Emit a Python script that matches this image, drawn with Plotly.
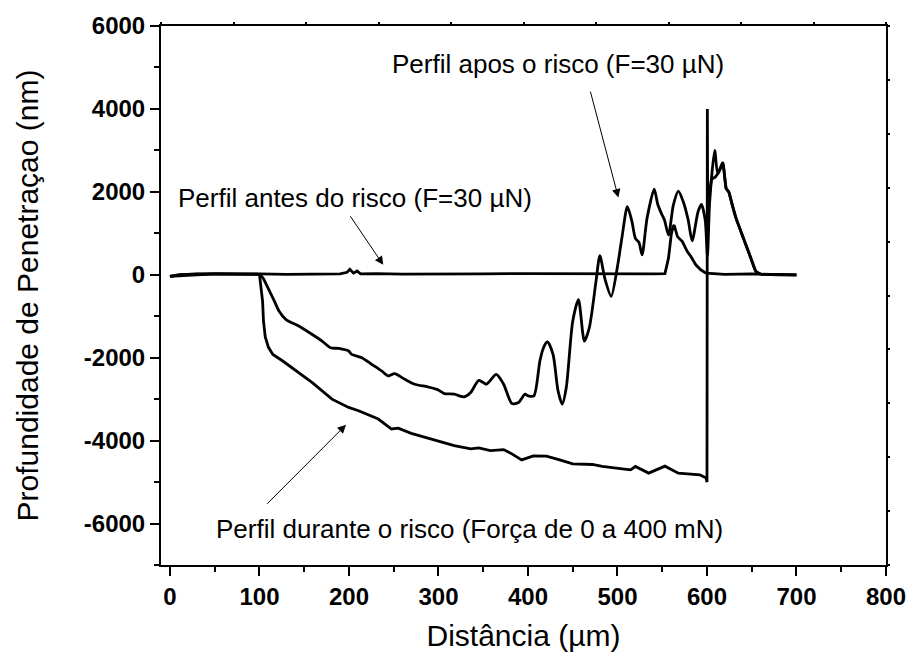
import plotly.graph_objects as go

# ---------------- data ----------------
antes_x = [0, 10, 30, 50, 80, 100, 130, 160, 190, 198, 201, 205, 209, 213, 230, 260, 300,
           350, 400, 450, 500, 540, 553, 557, 560, 562, 563.3, 567, 572.5, 578, 582, 587.5,
           593, 599, 620, 650, 680, 700]
antes_y = [-40, 0, 20, 25, 15, 20, 10, 15, 20, 60, 130, 40, 90, 20, 30, 15, 25,
           20, 30, 20, 25, 20, 30, 400, 960, 1160, 1200, 920, 800, 560, 440, 240,
           120, 40, 10, 20, 0, -10]

apos_x = [0, 10, 50, 90, 97, 100, 104, 108, 116.8, 122, 129.7, 144.4, 159, 170, 179.4, 188.6,
          199.7, 203, 214.4, 225.4, 236.5, 243.9, 251, 262.3, 273.4, 288, 299, 306.5, 317.6,
          328.6, 336, 345, 353.6, 364.6, 372.8, 382, 389.4, 396.7, 400.4, 406.6, 413.3, 417.5,
          421.8, 428, 433.6, 438.3, 442.8, 450, 456.4, 463, 468.5, 476, 480.3, 486, 493,
          500, 505, 511, 516, 520, 524, 527.5, 533, 541, 545, 549, 552.5, 557, 562.4, 568,
          573.5, 579, 583.4, 590, 593.8, 598, 600.5, 603, 608.6, 612, 617.7, 621.4, 624.3,
          628.7, 632.5, 638, 643.5, 649, 654.6, 660, 680, 700]
apos_y = [-40, 0, 20, 15, 15, 5, -80, -250, -640, -880, -1080, -1240, -1440, -1600, -1760, -1776,
          -1840, -1920, -2000, -2160, -2320, -2440, -2384, -2520, -2640, -2704, -2770, -2865, -2880,
          -2945, -2840, -2545, -2640, -2400, -2640, -3105, -3080, -2880, -2920, -2920, -2080, -1750,
          -1616, -1920, -2800, -3120, -2720, -1120, -600, -1600, -1280, -160, 463, -100, -520,
          200, 900, 1640, 1300, 880, 780, 480, 1360, 2064, 1700, 1480, 1320, 960, 1680, 2016,
          1760, 1320, 816, 1520, 1696, 1320, 450, 1760, 3000, 2440, 2704, 2080, 2000,
          1640, 1360, 1040, 720, 400, 80, 15, 10, 0]

durante_x = [0, 50, 100, 101, 103.5, 104.5, 106.5, 110, 115, 126, 140.8, 159, 181, 199.7,
             210.7, 232.8, 247.5, 255, 269.6, 284.4, 299, 317.6, 336, 345, 358, 372.8, 382,
             393, 406, 420.7, 435.4, 450, 472, 483, 505.4, 514.6, 520, 534.8, 553, 568, 592,
             599, 600, 600.4, 600.8, 603, 605, 609.5, 613.4, 617.7, 621.4, 624.3, 628.7,
             632.5, 638, 643.5, 649, 654.6, 660]
durante_y = [-40, 20, 10, -200, -640, -1120, -1500, -1750, -1920, -2080, -2320, -2600, -3000,
             -3200, -3280, -3480, -3720, -3700, -3825, -3920, -4000, -4120, -4200, -4176,
             -4240, -4216, -4320, -4464, -4370, -4376, -4464, -4560, -4576, -4624, -4680,
             -4704, -4624, -4784, -4616, -4784, -4824, -4900, -5000, 4000, 1600, 2000, 2300,
             2360, 2480, 2704, 2080, 2000, 1640, 1360, 1040, 720, 400, 80, 15]

x_ticks = [0, 100, 200, 300, 400, 500, 600, 700, 800]
x_ticktext = ["0", "100", "200", "300", "400", "500", "600", "700", "800"]
y_ticks = [-6000, -4000, -2000, 0, 2000, 4000, 6000]
y_ticktext = ["-6000", "-4000", "-2000", "0", "2000", "4000", "6000"]

FONT = "Liberation Sans, Arial, Helvetica, sans-serif"

fig = go.Figure()
fig.add_trace(go.Scatter(x=antes_x, y=antes_y, mode="lines",
                         line=dict(color="black", width=2.8),
                         showlegend=False, hoverinfo="skip"))
fig.add_trace(go.Scatter(x=apos_x, y=apos_y, mode="lines",
                         line=dict(color="black", width=2.8, shape="spline", smoothing=0.7),
                         showlegend=False, hoverinfo="skip"))
fig.add_trace(go.Scatter(x=durante_x, y=durante_y, mode="lines",
                         line=dict(color="black", width=2.8),
                         showlegend=False, hoverinfo="skip"))
# helper trace so the mirrored tick axes are drawn
fig.add_trace(go.Scatter(x=[None], y=[None], xaxis="x2", yaxis="y2",
                         showlegend=False, hoverinfo="skip"))

axis_common = dict(showgrid=False, zeroline=False, showline=True, linecolor="black",
                   linewidth=2, ticks="outside", ticklen=9, tickwidth=2, tickcolor="black",
                   tickfont=dict(family=FONT, size=24, color="black", weight="bold"))

fig.update_layout(
    width=918, height=660,
    margin=dict(l=161, r=24, t=24, b=95),
    paper_bgcolor="white", plot_bgcolor="white",
    xaxis=dict(range=[-10, 800], tickmode="array", tickvals=x_ticks, ticktext=x_ticktext,
               mirror=True,
               minor=dict(tickmode="linear", tick0=0, dtick=50, ticklen=5, tickwidth=2,
                          tickcolor="black", ticks="outside"),
               title=dict(text="Distância (µm)", standoff=16,
                          font=dict(family=FONT, size=30, color="black")),
               **axis_common),
    yaxis=dict(range=[-7000, 6000], tickmode="array", tickvals=y_ticks, ticktext=y_ticktext,
               mirror=True,
               minor=dict(tickmode="linear", tick0=0, dtick=1000, ticklen=5, tickwidth=2,
                          tickcolor="black", ticks="outside"),
               title=dict(text="Profundidade de Penetraçao (nm)", standoff=36,
                          font=dict(family=FONT, size=30, color="black")),
               **axis_common),
    xaxis2=dict(overlaying="x", side="top", anchor="y", range=[0, 10], tickmode="linear",
                tick0=0, dtick=1, ticks="outside", ticklen=3, tickwidth=1.5, tickcolor="black",
                showticklabels=False, showgrid=False, zeroline=False, showline=False),
    yaxis2=dict(overlaying="y", side="right", anchor="x", range=[0, 10], tickmode="linear",
                tick0=0, dtick=1, ticks="outside", ticklen=3, tickwidth=1.5, tickcolor="black",
                showticklabels=False, showgrid=False, zeroline=False, showline=False),
)

afont = dict(family=FONT, size=26, color="black")
labels = [
    ("Perfil apos o risco (F=30 µN)", 434, 5095),
    ("Perfil antes do risco (F=30 µN)", 206.5, 1855),
    ("Perfil durante o risco (Força de 0 a 400 mN)", 334.5, -6137),
]
for txt, lx, ly in labels:
    fig.add_annotation(x=lx, y=ly, xref="x", yref="y", text=txt, showarrow=False,
                       font=afont, xanchor="center", yanchor="middle")

arrows = [
    (469.3, 4454, 501, 1862),
    (200.4, 1447, 238.3, 240),
    (106.9, -5561, 196.7, -3617),
]
for tx, ty, hx, hy in arrows:
    fig.add_annotation(x=hx, y=hy, ax=tx, ay=ty, xref="x", yref="y", axref="x", ayref="y",
                       text="", showarrow=True, arrowhead=2, arrowsize=1.7, arrowwidth=1,
                       arrowcolor="black", standoff=0)

fig.write_html("out.html")
